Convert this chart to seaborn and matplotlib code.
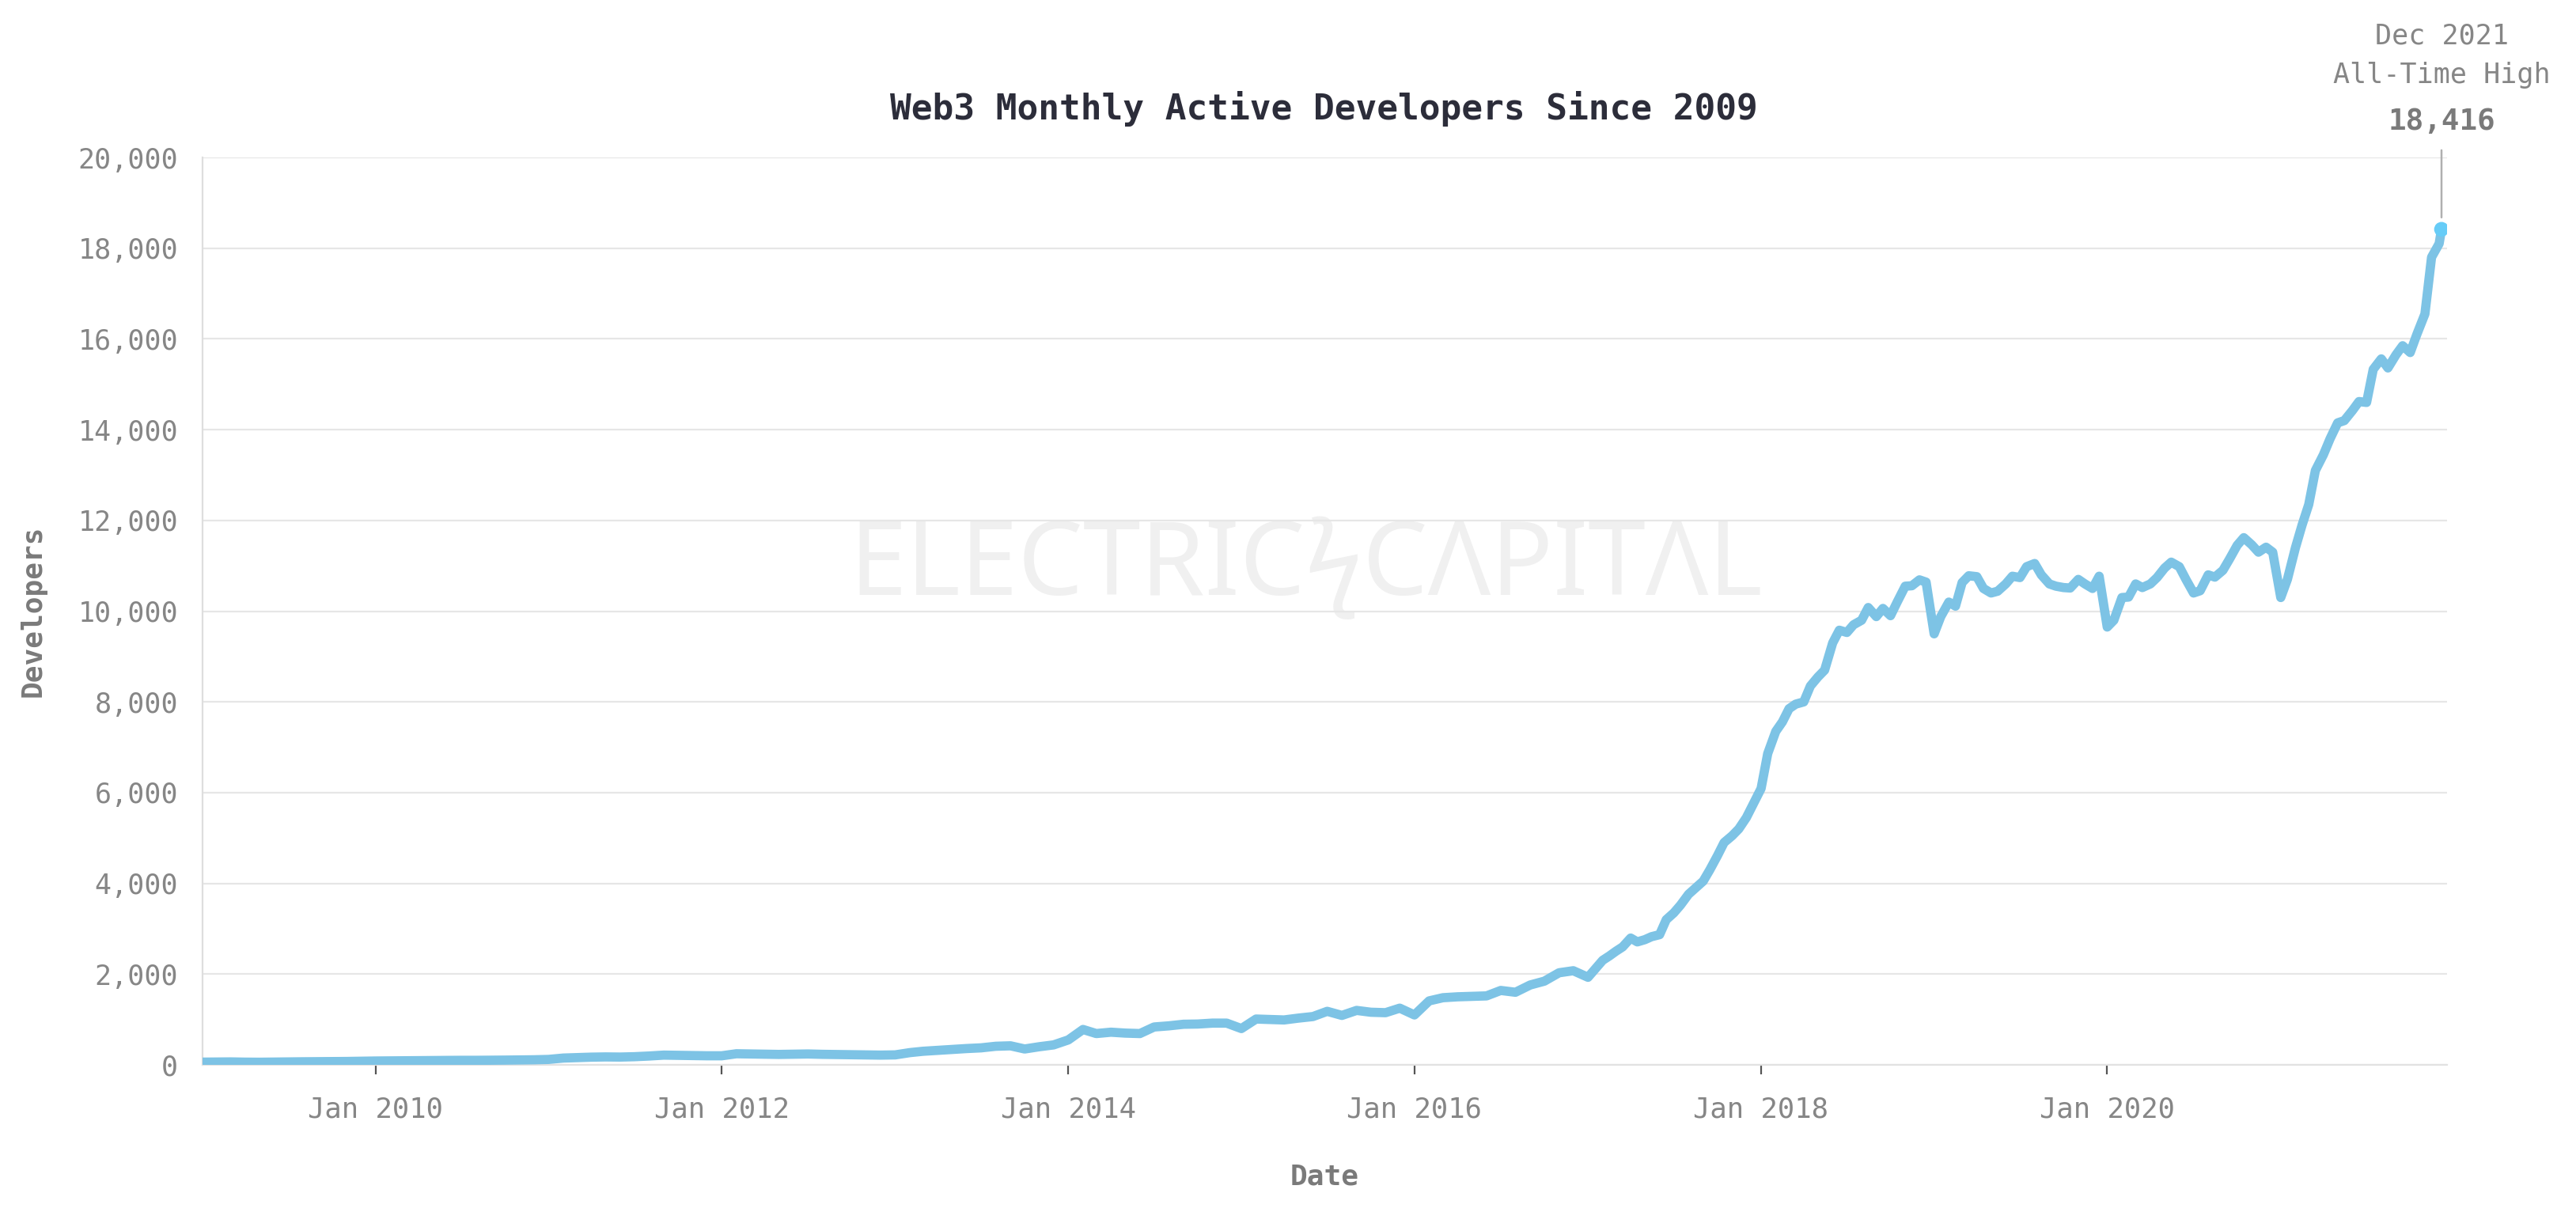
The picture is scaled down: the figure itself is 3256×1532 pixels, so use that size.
import pandas as pd
import numpy as np
import matplotlib
matplotlib.use('Agg')
import matplotlib.pyplot as plt
import matplotlib.dates as mdates
from matplotlib.ticker import FuncFormatter, MultipleLocator
import seaborn as sns

# --- data ---
# monthly points 2009 - 2016
monthly_dates = pd.date_range('2009-01-01', '2016-12-01', freq='MS')
monthly_devs = [
    60, 62, 65, 60, 58, 62, 65, 68, 70, 72, 75, 80,                      # 2009
    85, 88, 90, 92, 95, 98, 100, 100, 102, 105, 108, 112,                # 2010
    120, 150, 160, 170, 175, 172, 180, 195, 215, 210, 205, 200,          # 2011
    200, 245, 240, 235, 230, 235, 240, 232, 228, 225, 220, 215,          # 2012
    220, 270, 300, 320, 340, 360, 375, 410, 420, 350, 400, 440,          # 2013
    550, 780, 690, 720, 700, 690, 835, 860, 895, 900, 920, 920,          # 2014
    800, 1010, 1000, 990, 1030, 1065, 1180, 1090, 1200, 1160, 1150, 1250,  # 2015
    1100, 1410, 1480, 1500, 1510, 1520, 1640, 1600, 1760, 1845, 2030, 2075,  # 2016
]

# semi-monthly points 2017 - Dec 2021
semi_dates = pd.date_range('2017-01-01', '2021-12-01', freq='SMS')
semi_devs = [
    # 2017
    1930, 2100, 2305, 2400, 2505, 2600, 2795, 2710, 2760, 2825, 2870, 3200,
    3350, 3520, 3760, 3890, 4050, 4300, 4610, 4900, 5050, 5200, 5450, 5740,
    # 2018
    6090, 6860, 7350, 7560, 7850, 7950, 8000, 8350, 8550, 8700, 9300, 9580,
    9530, 9700, 9800, 10080, 9880, 10060, 9900, 10200, 10550, 10560, 10690, 10640,
    # 2019
    9500, 9880, 10200, 10110, 10630, 10780, 10760, 10500, 10400, 10440, 10600, 10770,
    10740, 10980, 11050, 10800, 10600, 10550, 10520, 10510, 10700, 10600, 10500, 10770,
    # 2020
    9650, 9800, 10300, 10310, 10600, 10520, 10600, 10740, 10950, 11080, 10980, 10700,
    10400, 10450, 10800, 10750, 10900, 11150, 11450, 11620, 11460, 11300, 11410, 11300,
    # 2021
    10300, 10700, 11400, 11900, 12350, 13100, 13450, 13800, 14150, 14200, 14420, 14620,
    14600, 15330, 15560, 15360, 15650, 15850, 15700, 16100, 16550, 17800, 18100,
]

peak_date = pd.Timestamp('2021-12-06')
peak_devs = 18416

df = pd.DataFrame({
    'date': list(monthly_dates) + list(semi_dates) + [peak_date],
    'devs': monthly_devs + semi_devs + [peak_devs],
})

# --- style ---
sns.set_theme(style='white')
plt.rcParams['font.family'] = ['DejaVu Sans Mono', 'DejaVu Sans']

line_color = '#7dc3e5'
dot_color = '#66ccf7'
label_gray = '#868686'

fig = plt.figure(figsize=(16.28, 7.66), dpi=200)
ax = fig.add_axes([0.0786, 0.1214, 0.8714, 0.7487])

# watermark
ax.text(0.4917, 0.5475, 'ELECTRICϟCΛPITΛL', transform=ax.transAxes,
        ha='center', va='center', fontsize=47, color='#f0f0f0',
        family=['Noto Sans', 'DejaVu Sans'], zorder=0)

sns.lineplot(data=df, x='date', y='devs', ax=ax, color=line_color,
             linewidth=4.2, zorder=3)
ax.scatter([peak_date], [peak_devs], s=45, color=dot_color, zorder=4,
           edgecolors='none')

# axes
ax.set_xlim(pd.Timestamp('2009-01-01'), pd.Timestamp('2021-12-18'))
ax.set_ylim(0, 20000)
ax.yaxis.set_major_locator(MultipleLocator(2000))
ax.yaxis.set_major_formatter(FuncFormatter(lambda v, p: f'{int(v):,}'))
ax.xaxis.set_major_locator(mdates.YearLocator(2))
ax.xaxis.set_major_formatter(mdates.DateFormatter('%b %Y'))

ax.grid(axis='y', color='#e6e6e6', linewidth=0.8)
ax.grid(axis='x', visible=False)
for s in ['top', 'right']:
    ax.spines[s].set_visible(False)
ax.spines['left'].set_color('#dedede')
ax.spines['left'].set_linewidth(0.8)
ax.spines['bottom'].set_color('#e2e2e2')
ax.spines['bottom'].set_linewidth(0.8)

ax.tick_params(axis='y', length=0, pad=11, labelsize=12.6, labelcolor=label_gray)
ax.tick_params(axis='x', length=4.3, width=0.8, color='#555555', direction='out',
               pad=10, labelsize=12.8, labelcolor=label_gray, bottom=True)

ax.set_xlabel('Date', fontsize=13, fontweight='bold', color='#7a7a7a')
ax.set_ylabel('Developers', fontsize=13, fontweight='bold', color='#7a7a7a')
ax.xaxis.label.set_va('center')
ax.yaxis.label.set_va('center')
ax.xaxis.set_label_coords(0.5, -0.123)
ax.yaxis.set_label_coords(-0.0754, 0.5)

# title
fig.text(0.514, 1 - 137 / 1532, 'Web3 Monthly Active Developers Since 2009',
         ha='center', va='center', fontsize=16, fontweight='bold', color='#2c2d3a')

# all-time high annotation
ax.annotate('', xy=(peak_date, peak_devs), xytext=(0, 36), textcoords='offset points',
            arrowprops=dict(arrowstyle='-', color='#b0b0b0', lw=0.9,
                            shrinkA=0, shrinkB=5.4),
            annotation_clip=False)
ax.annotate(f'{peak_devs:,}', xy=(peak_date, peak_devs), xytext=(0, 49),
            textcoords='offset points', ha='center', va='center',
            fontsize=13.5, fontweight='bold', color='#7a7a7a', annotation_clip=False)
ax.annotate('All-Time High', xy=(peak_date, peak_devs), xytext=(0, 70),
            textcoords='offset points', ha='center', va='center',
            fontsize=12.6, color=label_gray, annotation_clip=False)
ax.annotate('Dec 2021', xy=(peak_date, peak_devs), xytext=(0, 88),
            textcoords='offset points', ha='center', va='center',
            fontsize=12.6, color=label_gray, annotation_clip=False)

fig.savefig('out.png', dpi=200, facecolor='white')
